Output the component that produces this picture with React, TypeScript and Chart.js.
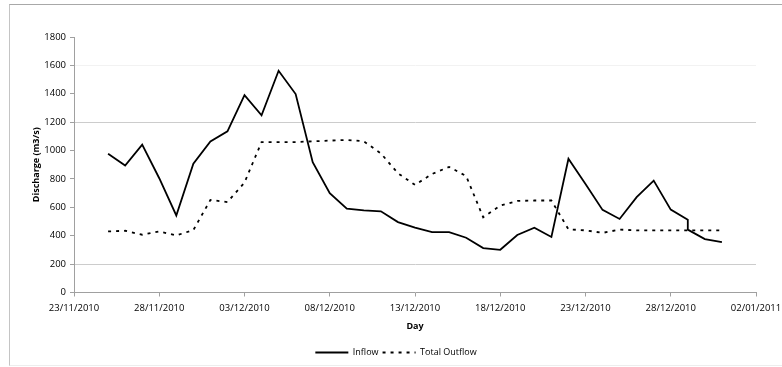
import React, { useEffect, useRef } from "react";
import { Chart, registerables } from "chart.js";

Chart.register(...registerables);

// ---- data ----
const axisStart = "23/11/2010";
const axisEnd = "02/01/2011";
const xTickStepDays = 5;
const yTicksMax = 1800;
const yTickStep = 200;

const inflowDates = [
  "25/11/2010", "26/11/2010", "27/11/2010", "28/11/2010", "29/11/2010", "30/11/2010",
  "01/12/2010", "02/12/2010", "03/12/2010", "04/12/2010", "05/12/2010", "06/12/2010",
  "07/12/2010", "08/12/2010", "09/12/2010", "10/12/2010", "11/12/2010", "12/12/2010",
  "13/12/2010", "14/12/2010", "15/12/2010", "16/12/2010", "17/12/2010", "18/12/2010",
  "19/12/2010", "20/12/2010", "21/12/2010", "22/12/2010", "23/12/2010", "24/12/2010",
  "25/12/2010", "26/12/2010", "27/12/2010", "28/12/2010", "29/12/2010", "29/12/2010",
  "30/12/2010", "31/12/2010",
];
const inflowValues = [
  978, 895, 1042, 805, 543, 908,
  1064, 1135, 1390, 1248, 1562, 1398,
  918, 700, 590, 578, 572, 496,
  457, 425, 425, 386, 313, 301,
  405, 457, 391, 942, 765, 582,
  518, 672, 788, 584, 513, 443,
  376, 355,
];

const outflowDates = [
  "25/11/2010", "26/11/2010", "27/11/2010", "28/11/2010", "29/11/2010", "30/11/2010",
  "01/12/2010", "02/12/2010", "03/12/2010", "04/12/2010", "05/12/2010", "06/12/2010",
  "07/12/2010", "08/12/2010", "09/12/2010", "10/12/2010", "11/12/2010", "12/12/2010",
  "13/12/2010", "14/12/2010", "15/12/2010", "16/12/2010", "17/12/2010", "18/12/2010",
  "19/12/2010", "20/12/2010", "21/12/2010", "22/12/2010", "23/12/2010", "24/12/2010",
  "25/12/2010", "26/12/2010", "27/12/2010", "28/12/2010", "29/12/2010", "30/12/2010",
  "31/12/2010",
];
const outflowValues = [
  430, 435, 407, 430, 402, 440,
  652, 637, 775, 1060, 1060, 1060,
  1065, 1070, 1075, 1065, 980, 840,
  758, 835, 885, 820, 530, 612,
  645, 648, 648, 445, 438, 420,
  443, 438, 438, 438, 438, 438,
  438,
];

// ---- helpers ----
const DAY = 86400000;
function parseDate(s: string): number {
  const [d, m, y] = s.split("/").map(Number);
  return Date.UTC(y, m - 1, d);
}
const originMs = parseDate(axisStart);
const toDay = (s: string) => Math.round((parseDate(s) - originMs) / DAY);
function fmtDay(v: number): string {
  const dt = new Date(originMs + v * DAY);
  const dd = String(dt.getUTCDate()).padStart(2, "0");
  const mm = String(dt.getUTCMonth() + 1).padStart(2, "0");
  return `${dd}/${mm}/${dt.getUTCFullYear()}`;
}

const FONT = "'Open Sans', 'Liberation Sans', sans-serif";
const TICK_FS = 9.5;
const LEGEND_FS = 9;
const TITLE_FS = 9;

export default function App() {
  const ref = useRef<HTMLCanvasElement | null>(null);

  useEffect(() => {
    if (!ref.current) return;
    const chart = new Chart(ref.current, {
      type: "line",
      data: {
        datasets: [
          {
            label: "Inflow",
            data: inflowDates.map((d, i) => ({ x: toDay(d), y: inflowValues[i] })),
            borderColor: "#000000",
            backgroundColor: "#000000",
            borderWidth: 1.8,
            pointRadius: 0,
            tension: 0,
          },
          {
            label: "Total Outflow",
            data: outflowDates.map((d, i) => ({ x: toDay(d), y: outflowValues[i] })),
            borderColor: "#000000",
            backgroundColor: "#000000",
            borderWidth: 1.8,
            borderDash: [3, 5],
            pointRadius: 0,
            tension: 0,
          },
        ],
      },
      options: {
        animation: false,
        responsive: false,
        maintainAspectRatio: false,
        layout: { padding: { left: 10, right: 0, top: 37, bottom: 0 } },
        plugins: {
          tooltip: { enabled: false },
          legend: {
            position: "bottom",
            labels: {
              usePointStyle: true,
              pointStyle: "line",
              pointStyleWidth: 33,
              padding: 4,
              color: "#000000",
              font: { family: FONT, size: LEGEND_FS },
              generateLabels: (ch: any) => {
                const items = (Chart as any).defaults.plugins.legend.labels.generateLabels(ch);
                return items.map((it: any) => {
                  const ds: any = ch.data.datasets[it.datasetIndex];
                  return {
                    ...it,
                    lineDash: ds.borderDash || [],
                    lineWidth: ds.borderWidth,
                    strokeStyle: ds.borderColor,
                    pointStyle: "line",
                  };
                });
              },
            },
          },
        },
        scales: {
          x: {
            type: "linear",
            min: 0,
            max: toDay(axisEnd),
            afterFit: (s: any) => {
              s.height = 51.5;
              s.paddingRight = 26;
            },
            ticks: {
              stepSize: xTickStepDays,
              callback: (v: any) => fmtDay(Number(v)),
              color: "#000000",
              font: { family: FONT, size: TICK_FS },
              padding: 6,
              maxRotation: 0,
              autoSkip: false,
            },
            grid: {
              drawOnChartArea: false,
              tickLength: 4,
              color: "#a0a0a0",
              tickColor: "#a0a0a0",
            },
            border: { color: "#a0a0a0", width: 1 },
            title: {
              display: true,
              text: "Day",
              color: "#000000",
              font: { family: FONT, size: TITLE_FS, weight: "bold" },
              padding: { top: 0, bottom: 12 },
            },
          },
          y: {
            min: 0,
            max: yTicksMax,
            afterFit: (s: any) => {
              s.width = 64;
            },
            ticks: {
              stepSize: yTickStep,
              callback: (v: any) => String(v),
              color: "#000000",
              font: { family: FONT, size: TICK_FS },
              padding: 4,
            },
            grid: {
              tickLength: 4,
              tickColor: "#a0a0a0",
              color: (c: any) => {
                const v = c.tick ? c.tick.value : null;
                if (v === 200 || v === 1200) return "#cccccc";
                if (v === 1600) return "#f2f2f2";
                return "rgba(0,0,0,0)";
              },
            },
            border: { color: "#a0a0a0", width: 1 },
            title: {
              display: true,
              text: "Discharge (m3/s)",
              color: "#000000",
              font: { family: FONT, size: TITLE_FS, weight: "bold" },
              padding: { top: 21, bottom: 0 },
            },
          },
        },
      },
    });
    return () => chart.destroy();
  }, []);

  return (
    <div style={{ position: "fixed", left: 0, top: 0, width: 782, height: 367, background: "#ffffff", overflow: "hidden" }}>
      <canvas ref={ref} width={782} height={367} style={{ position: "absolute", left: 0, top: 0, width: 782, height: 367 }} />
      <div
        style={{
          position: "absolute",
          left: 9,
          top: 4,
          width: 800,
          height: 362,
          boxSizing: "border-box",
          borderTop: "1px solid #a8a8a8",
          borderLeft: "1px solid #c4c4c4",
          borderBottom: "1px solid #ededed",
          pointerEvents: "none",
        }}
      />
    </div>
  );
}
